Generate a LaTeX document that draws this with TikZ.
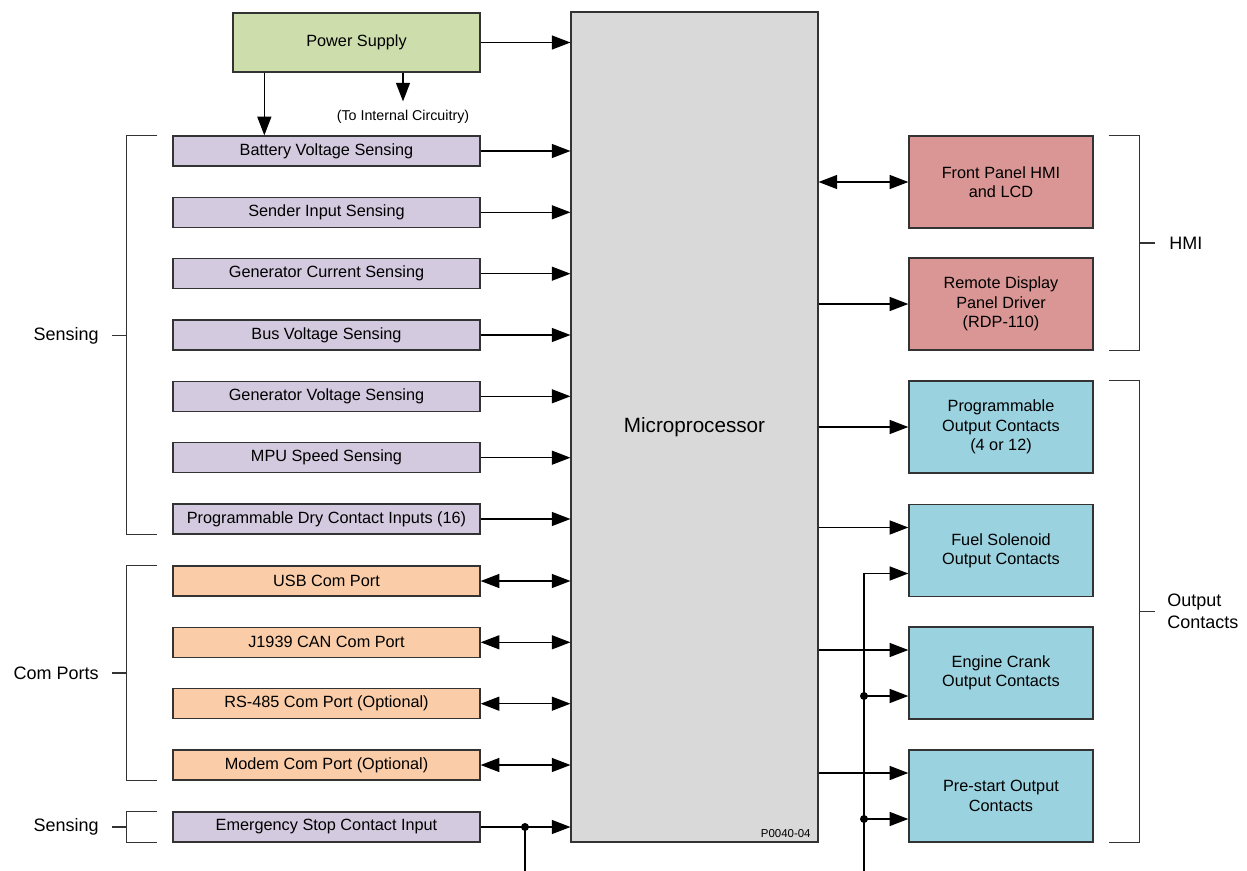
\documentclass[tikz,border=0pt]{standalone}
\usepackage{fontspec}
\setmainfont{Liberation Sans}
\usetikzlibrary{arrows.meta,calc}
\definecolor{psgreen}{HTML}{CDDDAC}
\definecolor{sensepurple}{HTML}{D3CADF}
\definecolor{comorange}{HTML}{FACDA8}
\definecolor{hmired}{HTML}{D99694}
\definecolor{outblue}{HTML}{9BD2DF}
\definecolor{cpugray}{HTML}{D9D9D9}
\definecolor{edgegray}{HTML}{333333}
\tikzset{
  boxfont/.style={font=\fontsize{12.2pt}{14.5pt}\selectfont},
  sidefont/.style={font=\fontsize{13.5pt}{16.5pt}\selectfont},
  sensebox/.style={boxfont, draw=edgegray, line width=1pt, fill=sensepurple, minimum width=230.25pt, minimum height=22.5pt, inner sep=0pt},
  combox/.style={sensebox, fill=comorange},
  psbox/.style={boxfont, draw=edgegray, line width=1pt, fill=psgreen, minimum width=185.25pt, minimum height=44.25pt, inner sep=0pt},
  cpubox/.style={draw=edgegray, line width=0.8pt, fill=cpugray, minimum width=185.25pt, minimum height=622.5pt, inner sep=0pt, font=\fontsize{15.5pt}{18pt}\selectfont},
  outbox/.style={boxfont, draw=edgegray, line width=1pt, fill=outblue, minimum width=138pt, minimum height=69pt, inner sep=0pt, align=center},
  hmibox/.style={outbox, fill=hmired},
  conn/.style={line width=1pt, -{Triangle[length=14pt,width=10.5pt]}},
  conntwo/.style={line width=1pt, {Triangle[length=14pt,width=10.5pt]}-{Triangle[length=14pt,width=10.5pt]}},
  brk/.style={line width=1pt, draw=edgegray},
  joint/.style={fill=black}
}
\begin{document}
\begin{tikzpicture}[x=0.75pt,y=-0.75pt]
			%%%%% START %%%%%
			\useasboundingbox (0,0) rectangle (1247,871);
			
			\node[psbox] (power) at (356.5,42.5) {Power Supply};
			\node[cpubox] (micro) at (694.5,427) {Microprocessor};
			\node[anchor=south east, inner sep=2pt, font=\fontsize{8.6pt}{10pt}\selectfont] (figno) at ($(micro.south east)+(-5,-2)$) {P0040-04};
			\node[inner sep=2pt, font=\fontsize{10.7pt}{12pt}\selectfont] (intc) at (403,117) {(To Internal Circuitry)};
			
			\node[sensebox] (battery) at (326.5,151) {Battery Voltage Sensing};
			\node[sensebox] (sender) at (326.5,212.3) {Sender Input Sensing};
			\node[sensebox] (gencur) at (326.5,273.7) {Generator Current Sensing};
			\node[sensebox] (busvolt) at (326.5,335) {Bus Voltage Sensing};
			\node[sensebox] (genvolt) at (326.5,396.3) {Generator Voltage Sensing};
			\node[sensebox] (mpu) at (326.5,457.7) {MPU Speed Sensing};
			\node[sensebox] (dryin) at (326.5,519) {Programmable Dry Contact Inputs (16)};
			\node[combox] (usb) at (326.5,581) {USB Com Port};
			\node[combox] (jcan) at (326.5,642.3) {J1939 CAN Com Port};
			\node[combox] (rsport) at (326.5,703.7) {RS-485 Com Port (Optional)};
			\node[combox] (modem) at (326.5,765) {Modem Com Port (Optional)};
			\node[sensebox] (estop) at (326.5,827) {Emergency Stop Contact Input};
			
			\node[hmibox] (front) at (1001,182) {Front Panel HMI\\and LCD};
			\node[hmibox] (remote) at (1001,304) {Remote Display\\Panel Driver\\(RDP-110)};
			\node[outbox] (progout) at (1001,427) {Programmable\\Output Contacts\\(4 or 12)};
			\node[outbox] (fuel) at (1001,550.5) {Fuel Solenoid\\Output Contacts};
			\node[outbox] (crank) at (1001,673) {Engine Crank\\Output Contacts};
			\node[outbox] (prestart) at (1001,796) {Pre-start Output\\Contacts};
			
			% side labels
			\node[sidefont, anchor=east, inner sep=0pt] (senslbl) at (99,335.5) {Sensing};
			\node[sidefont, anchor=east, inner sep=0pt] (comlbl) at (99,673) {Com Ports};
			\node[sidefont, anchor=east, inner sep=0pt] (stoplbl) at (99,827) {Sensing};
			\node[sidefont, anchor=west, inner sep=0pt] (hmilbl) at (1169,243) {HMI};
			\node[sidefont, anchor=west, inner sep=0pt, align=left] (outlbl) at (1167,611.5) {Output\\Contacts};
			
			% power supply
			\coordinate (pstap) at ($(power.south west)+(32,0)$);
			\draw[conn] (power.east) -- (power.east -| micro.west);
			\draw[conn] (pstap) -- (pstap |- battery.north);
			\draw[conn] (power.south -| intc.north) -- ($(intc.north)+(0,-6)$);
			
			% inputs
			\draw[conn] (battery.east) -- (battery.east -| micro.west);
			\draw[conn] (sender.east) -- (sender.east -| micro.west);
			\draw[conn] (gencur.east) -- (gencur.east -| micro.west);
			\draw[conn] (busvolt.east) -- (busvolt.east -| micro.west);
			\draw[conn] (genvolt.east) -- (genvolt.east -| micro.west);
			\draw[conn] (mpu.east) -- (mpu.east -| micro.west);
			\draw[conn] (dryin.east) -- (dryin.east -| micro.west);
			\draw[conntwo] (usb.east) -- (usb.east -| micro.west);
			\draw[conntwo] (jcan.east) -- (jcan.east -| micro.west);
			\draw[conntwo] (rsport.east) -- (rsport.east -| micro.west);
			\draw[conntwo] (modem.east) -- (modem.east -| micro.west);
			
			\coordinate (stopjoin) at (525,827);
			\coordinate (stopend) at (525,871);
			\draw[conn] (estop.east) -- (estop.east -| micro.west);
			\draw[line width=1pt] (stopjoin) -- (stopend);
			\fill[joint] (stopjoin) circle (4);
			
			% outputs
			\draw[conntwo] (micro.east |- front.west) -- (front.west);
			\draw[conn] (micro.east |- remote.west) -- (remote.west);
			\draw[conn] (micro.east |- progout.west) -- (progout.west);
			
			\coordinate (fuela) at ($(fuel.west)+(0,-23)$);
			\coordinate (fuelb) at ($(fuel.west)+(0,23)$);
			\coordinate (cranka) at ($(crank.west)+(0,-23)$);
			\coordinate (crankb) at ($(crank.west)+(0,23)$);
			\coordinate (prea) at ($(prestart.west)+(0,-23)$);
			\coordinate (preb) at ($(prestart.west)+(0,23)$);
			\coordinate (railend) at (864,871);
			
			\draw[conn] (micro.east |- fuela) -- (fuela);
			\draw[conn] (micro.east |- cranka) -- (cranka);
			\draw[conn] (micro.east |- prea) -- (prea);
			\draw[conn] (railend) |- (fuelb);
			\draw[conn] (railend |- crankb) -- (crankb);
			\draw[conn] (railend |- preb) -- (preb);
			\fill[joint] (railend |- crankb) circle (4);
			\fill[joint] (railend |- preb) circle (4);
			
			% brackets
			\draw[brk] ($(battery.north west)+(-15,0)$) -| ($(dryin.south west)+(-46,0)$) -- ($(dryin.south west)+(-15,0)$);
			\draw[brk] (senslbl.east) ++(13,0) -- ++(15,0);
			\draw[brk] ($(usb.north west)+(-15,0)$) -| ($(modem.south west)+(-46,0)$) -- ($(modem.south west)+(-15,0)$);
			\draw[brk] (comlbl.east) ++(13,0) -- ++(15,0);
			\draw[brk] ($(estop.north west)+(-15,0)$) -| ($(estop.south west)+(-46,0)$) -- ($(estop.south west)+(-15,0)$);
			\draw[brk] (stoplbl.east) ++(13,0) -- ++(15,0);
			
			\draw[brk] ($(front.north east)+(15,0)$) -| ($(remote.south east)+(46,0)$) -- ($(remote.south east)+(15,0)$);
			\draw[brk] (hmilbl.west) ++(-14,0) -- ++(-16,0);
			\draw[brk] ($(progout.north east)+(15,0)$) -| ($(prestart.south east)+(46,0)$) -- ($(prestart.south east)+(15,0)$);
			\draw[brk] (outlbl.west) ++(-12,0) -- ++(-16,0);
			
			%%%%% END %%%%%
\end{tikzpicture}
\end{document}
